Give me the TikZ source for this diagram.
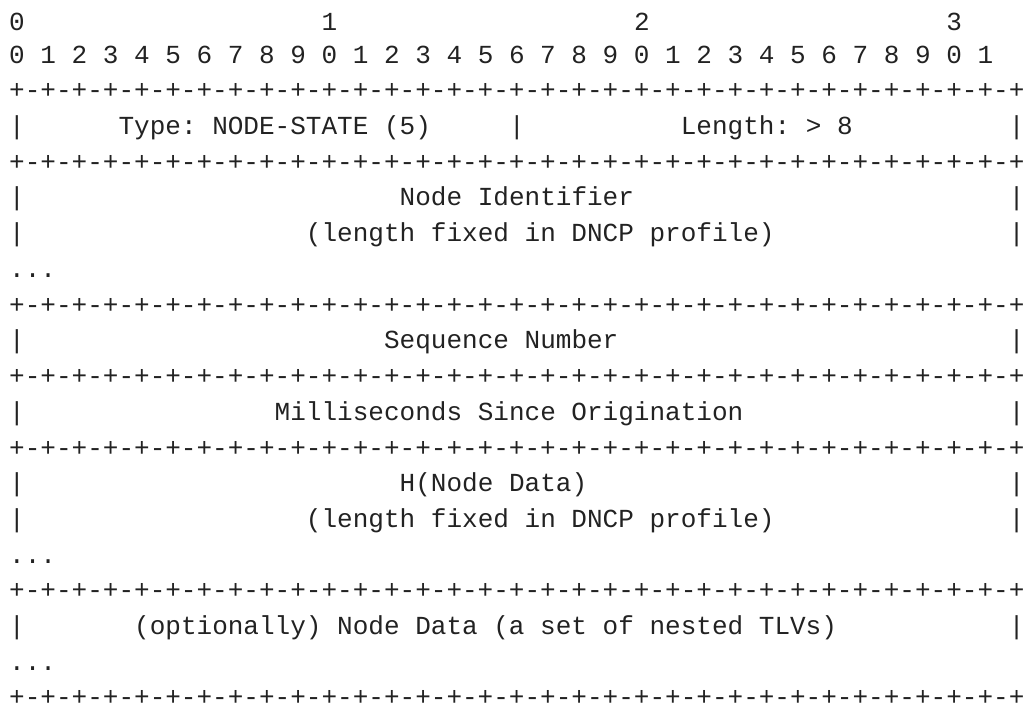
\documentclass[tikz,border=0pt]{standalone}
\usepackage{fontspec}
\newfontfamily\asciifont{Liberation Mono}
\definecolor{ink}{HTML}{222222}
\newcommand\eightpm{+-+-+-+-}
\newcommand\rul{\eightpm\eightpm\eightpm\eightpm\eightpm\eightpm\eightpm\eightpm+}
% place a text segment: name, column, baseline (px from top), text
\newcommand\seg[4]{\node[asc] (#1) at ({9.2+15.62*(#2)},{#3}) {#4};}
\tikzset{asc/.style={anchor=base west, inner sep=0pt, outer sep=0pt,
  text=ink, font=\asciifont\fontsize{26.03}{30}\selectfont}}
\begin{document}
\begin{tikzpicture}[x=1pt,y=-1pt]
\useasboundingbox (0,0) rectangle (1024,707);
% bit index header
\seg{h0}{0}{30}{0}
\seg{h1}{20}{30}{1}
\seg{h2}{40}{30}{2}
\seg{h3}{60}{30}{3}
\seg{bits}{0}{63}{0~1~2~3~4~5~6~7~8~9~0~1~2~3~4~5~6~7~8~9~0~1~2~3~4~5~6~7~8~9~0~1}
% row 3
\seg{l3}{0}{98.80}{\rul}
% row 4
\seg{b4a}{0}{134.52}{|}
\seg{t4a}{7}{134.52}{Type:~NODE-STATE~(5)}
\seg{b4b}{32}{134.52}{|}
\seg{t4b}{43}{134.52}{Length:~>~8}
\seg{b4c}{64}{134.52}{|}
% row 5
\seg{l5}{0}{170.24}{\rul}
% rows 6-8
\seg{b6a}{0}{205.96}{|}
\seg{t6}{25}{205.96}{Node~Identifier}
\seg{b6b}{64}{205.96}{|}
\seg{b7a}{0}{241.68}{|}
\seg{t7}{19}{241.68}{(length~fixed~in~DNCP~profile)}
\seg{b7b}{64}{241.68}{|}
\seg{d8}{0}{277.40}{...}
% row 9
\seg{l9}{0}{313.12}{\rul}
% row 10
\seg{b10a}{0}{348.84}{|}
\seg{t10}{24}{348.84}{Sequence~Number}
\seg{b10b}{64}{348.84}{|}
% row 11
\seg{l11}{0}{384.56}{\rul}
% row 12
\seg{b12a}{0}{420.28}{|}
\seg{t12}{17}{420.28}{Milliseconds~Since~Origination}
\seg{b12b}{64}{420.28}{|}
% row 13
\seg{l13}{0}{456.00}{\rul}
% rows 14-16
\seg{b14a}{0}{491.72}{|}
\seg{t14}{25}{491.72}{H(Node~Data)}
\seg{b14b}{64}{491.72}{|}
\seg{b15a}{0}{527.44}{|}
\seg{t15}{19}{527.44}{(length~fixed~in~DNCP~profile)}
\seg{b15b}{64}{527.44}{|}
\seg{d16}{0}{563.16}{...}
% row 17
\seg{l17}{0}{598.88}{\rul}
% rows 18-19
\seg{b18a}{0}{634.60}{|}
\seg{t18}{8}{634.60}{(optionally)~Node~Data~(a~set~of~nested~TLVs)}
\seg{b18b}{64}{634.60}{|}
\seg{d19}{0}{670.32}{...}
% row 20
\seg{l20}{0}{705.00}{\rul}
\end{tikzpicture}
\end{document}
